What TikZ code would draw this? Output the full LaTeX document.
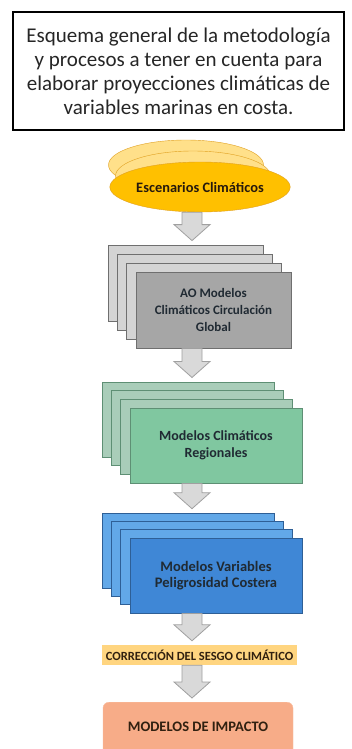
\documentclass[tikz,border=0pt]{standalone}
\usepackage{fontspec}
\setmainfont{Carlito}
\usetikzlibrary{calc,shapes.geometric}

\definecolor{oroesc}{HTML}{FFC000}
\definecolor{oroclaro}{HTML}{FFE08A}
\definecolor{orobord}{HTML}{E0A020}
\definecolor{grisfte}{HTML}{A6A6A6}
\definecolor{grisatr}{HTML}{D4D4D4}
\definecolor{grisbord}{HTML}{6F6F6F}
\definecolor{verdefte}{HTML}{80C7A0}
\definecolor{verdeatr}{HTML}{A9CDB9}
\definecolor{verdebord}{HTML}{5E8F74}
\definecolor{azulfte}{HTML}{3F87D6}
\definecolor{azulatr}{HTML}{62A8E8}
\definecolor{azulbord}{HTML}{2E5F96}
\definecolor{sesgofill}{HTML}{FFD580}
\definecolor{impactofill}{HTML}{F7AC88}
\definecolor{flechafill}{HTML}{D9D9D9}
\definecolor{flechabord}{HTML}{A0A0A0}
\definecolor{textoosc}{HTML}{202A33}

\tikzset{
  titulo/.style={draw=black, line width=1.3pt, align=center, minimum width=331pt,
    minimum height=118pt, font=\fontsize{21}{24}\selectfont, text=black!85},
  escatras/.style={ellipse, draw=orobord, fill=oroclaro, minimum width=155pt,
    minimum height=50pt, inner sep=0pt},
  escfrente/.style={escatras, fill=oroesc, font=\fontsize{14.4}{15}\selectfont\bfseries,
    text=black!80!brown},
  capa/.style={draw=#1, line width=0.8pt, inner sep=2pt, align=center},
  gcmatras/.style={capa=grisbord, fill=grisatr, minimum width=155pt, minimum height=76pt},
  gcmfrente/.style={gcmatras, fill=grisfte, text=textoosc,
    font=\fontsize{13}{17}\selectfont\bfseries},
  rcmatras/.style={capa=verdebord, fill=verdeatr, minimum width=172pt, minimum height=75pt},
  rcmfrente/.style={rcmatras, fill=verdefte, text=textoosc,
    font=\fontsize{14}{17}\selectfont\bfseries},
  pelatras/.style={capa=azulbord, fill=azulatr, minimum width=172pt, minimum height=75pt},
  pelfrente/.style={pelatras, fill=azulfte, text=textoosc,
    font=\fontsize{14.5}{16}\selectfont\bfseries},
  sesgo/.style={fill=sesgofill, minimum width=195pt, minimum height=20pt, inner sep=0pt,
    text=black!75!brown, font=\fontsize{12.5}{12}\selectfont\bfseries},
  impacto/.style={fill=impactofill, draw=impactofill!80!white, rounded corners=6pt,
    minimum width=190pt, minimum height=58pt, text=black!75!brown,
    font=\fontsize{14.5}{15}\selectfont\bfseries},
  flechagris/.style={fill=flechafill, draw=flechabord, line width=0.8pt, line join=miter}
}

% flecha de bloque hacia abajo, de #1 a #2
\newcommand{\flecha}[2]{%
  \draw[flechagris] ($(ax |- #1)+(-10,0)$) -- ($(ax |- #1)+(10,0)$)
    -- ($(ax |- #2)+(10,-20)$) -- ($(ax |- #2)+(18,-20)$) -- ($(ax |- #2)+(0,-4)$)
    -- ($(ax |- #2)+(-18,-20)$) -- ($(ax |- #2)+(-10,-20)$) -- cycle;}

\begin{document}
\begin{tikzpicture}[x=1pt, y=-1pt]
  \useasboundingbox (0,0) rectangle (351,749);
  \fill[white] (0,0) rectangle (351,749);

  \node[titulo] (titulo) at (178.5,71) {Esquema general de la metodología\\
    y procesos a tener en cuenta para\\elaborar proyecciones climáticas de\\
    variables marinas en costa.};

  \coordinate (ax) at (192,0);

  % escenarios
  \coordinate (escpos) at (200,187);
  \foreach \i in {2,1}
    \node[escatras] (esc-\i) at ($(escpos)+(-7*\i,-11*\i)$) {};
  \node[escfrente] (esc) at (escpos) {Escenarios Climáticos};

  % modelos globales
  \coordinate (gcmpos) at (213.5,310);
  \foreach \i in {3,2,1}
    \node[gcmatras] (gcm-\i) at ($(gcmpos)+(-9.3*\i,-9*\i)$) {};
  \node[gcmfrente] (gcm) at (gcmpos) {AO Modelos\\Climáticos Circulación\\Global};

  % modelos regionales
  \coordinate (rcmpos) at (216,445.5);
  \foreach \i in {3,2,1}
    \node[rcmatras] (rcm-\i) at ($(rcmpos)+(-9.3*\i,-8.7*\i)$) {};
  \node[rcmfrente] (rcm) at (rcmpos) {Modelos Climáticos\\Regionales};

  % peligrosidad costera
  \coordinate (pelpos) at (216,575.5);
  \foreach \i in {3,2,1}
    \node[pelatras] (pel-\i) at ($(pelpos)+(-9.3*\i,-8.3*\i)$) {};
  \node[pelfrente] (pel) at (pelpos) {Modelos Variables\\Peligrosidad Costera};

  \node[sesgo] (sesgo) at (199.5,655) {CORRECCIÓN DEL SESGO CLIMÁTICO};
  \node[impacto, anchor=north] (impacto) at (198,702) {};
  \node[impacto, fill=none, draw=none, anchor=center] (impactotxt) at (198,727)
    {MODELOS DE IMPACTO};

  \flecha{esc.south}{gcm-3.north}
  \flecha{gcm.south}{rcm-3.north}
  \flecha{rcm.south}{pel-3.north}
  \flecha{pel.south}{sesgo.north}
  \flecha{sesgo.south}{impacto.north}
\end{tikzpicture}
\end{document}
